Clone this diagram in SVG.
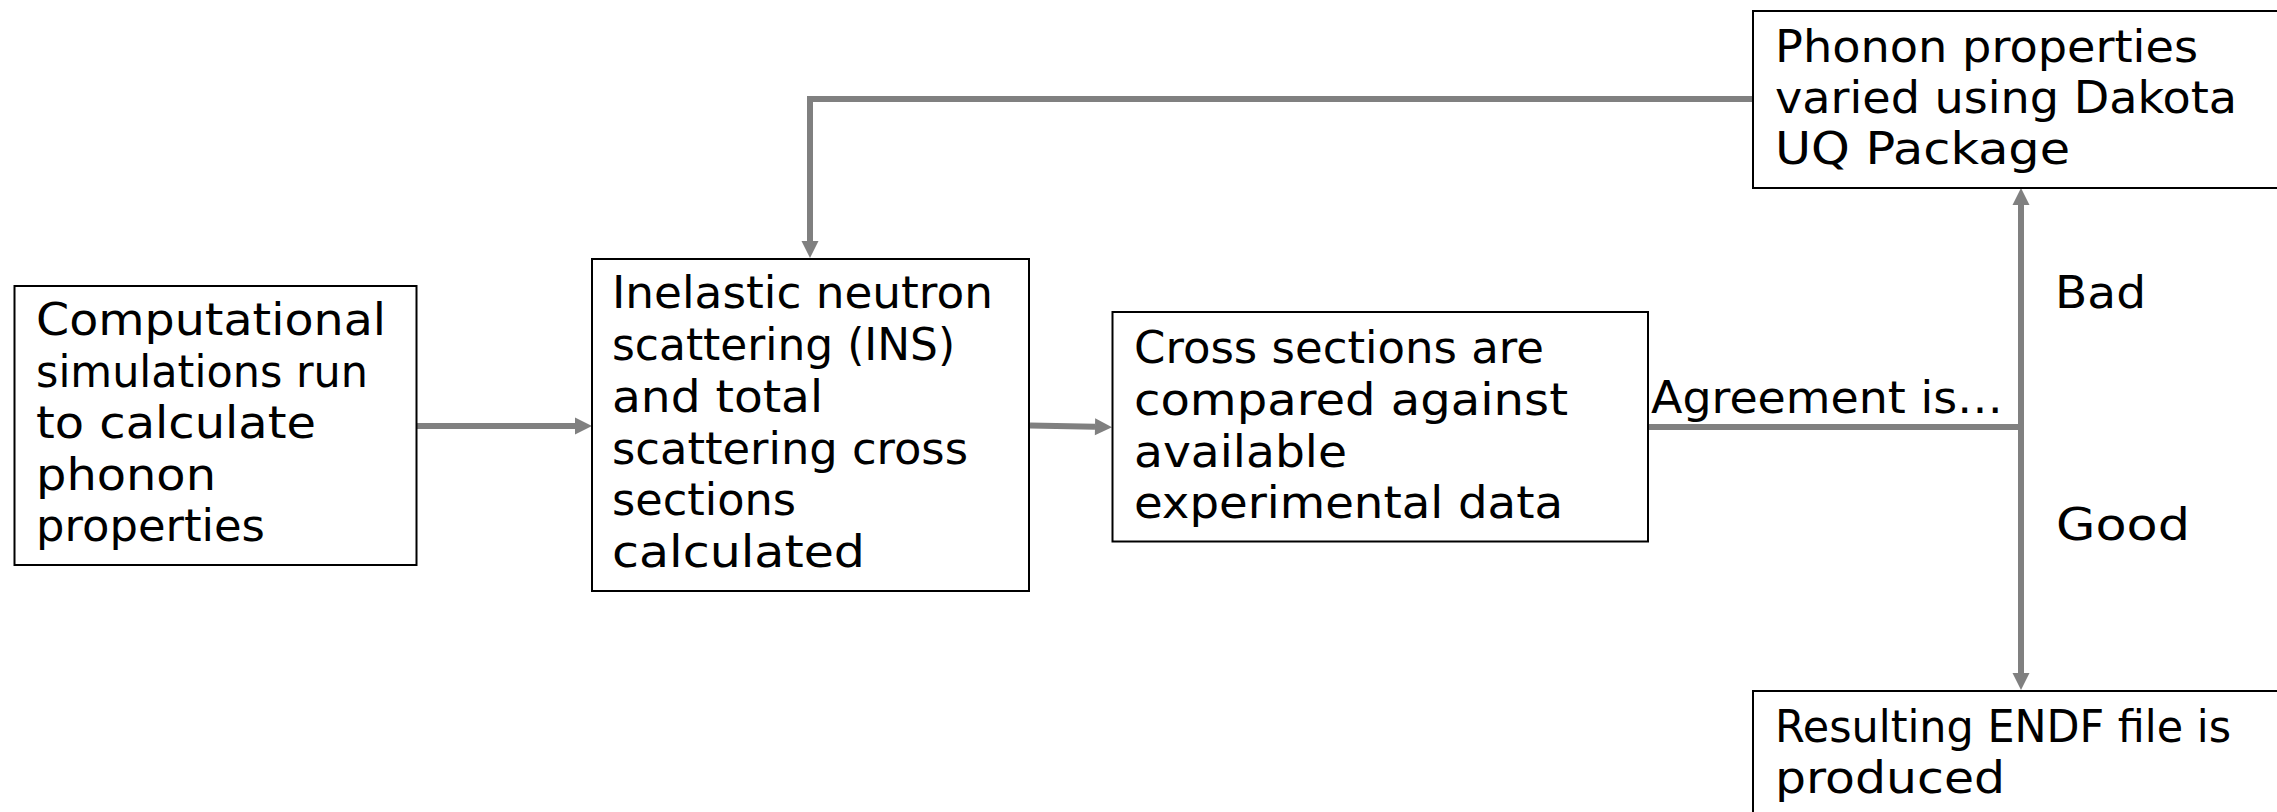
<svg xmlns="http://www.w3.org/2000/svg" width="2277" height="812" viewBox="0 0 2277 812">
<style>
.box{fill:#fff;stroke:#000;stroke-width:2}
.t{font-family:"DejaVu Sans","Liberation Sans",sans-serif;font-size:44px;fill:#000}
.c{fill:none;stroke:#808080;stroke-width:6}
</style>
<defs>
<marker id="ah" markerUnits="userSpaceOnUse" markerWidth="18" markerHeight="18" refX="0" refY="8.5" orient="auto" overflow="visible">
<path d="M0,0 L17,8.5 L0,17 Z" fill="#808080"/>
</marker>
</defs>
<rect width="2277" height="812" fill="#fff"/>
<g id="connectors">
<line class="c" x1="417" y1="426" x2="575" y2="426" marker-end="url(#ah)"/>
<line class="c" x1="1030" y1="425.5" x2="1095" y2="426.8" marker-end="url(#ah)"/>
<line class="c" x1="1648" y1="427" x2="2024" y2="427"/>
<line class="c" x1="2021" y1="430" x2="2021" y2="205" marker-end="url(#ah)"/>
<line class="c" x1="2021" y1="424" x2="2021" y2="673" marker-end="url(#ah)"/>
<polyline class="c" points="1753,99 810,99 810,241" marker-end="url(#ah)"/>
</g>
<g id="n1">
<rect class="box" x="14.5" y="286" width="402" height="279"/>
<text class="t" x="36" y="335" textLength="350" lengthAdjust="spacingAndGlyphs">Computational</text>
<text class="t" x="36" y="386.5" textLength="332" lengthAdjust="spacingAndGlyphs">simulations run</text>
<text class="t" x="36" y="438" textLength="280" lengthAdjust="spacingAndGlyphs">to calculate</text>
<text class="t" x="36" y="489.5" textLength="180" lengthAdjust="spacingAndGlyphs">phonon</text>
<text class="t" x="36" y="541" textLength="229" lengthAdjust="spacingAndGlyphs">properties</text>
</g>
<g id="n2">
<rect class="box" x="592" y="259" width="437" height="332"/>
<text class="t" x="612" y="308" textLength="381" lengthAdjust="spacingAndGlyphs">Inelastic neutron</text>
<text class="t" x="612" y="360" textLength="343" lengthAdjust="spacingAndGlyphs">scattering (INS)</text>
<text class="t" x="612" y="412" textLength="211" lengthAdjust="spacingAndGlyphs">and total</text>
<text class="t" x="612" y="463.5" textLength="356" lengthAdjust="spacingAndGlyphs">scattering cross</text>
<text class="t" x="612" y="515" textLength="184" lengthAdjust="spacingAndGlyphs">sections</text>
<text class="t" x="612" y="567" textLength="253" lengthAdjust="spacingAndGlyphs">calculated</text>
</g>
<g id="n3">
<rect class="box" x="1112.5" y="312" width="535.5" height="229.5"/>
<text class="t" x="1134" y="363" textLength="410" lengthAdjust="spacingAndGlyphs">Cross sections are</text>
<text class="t" x="1134" y="414.5" textLength="434" lengthAdjust="spacingAndGlyphs">compared against</text>
<text class="t" x="1134" y="467" textLength="213" lengthAdjust="spacingAndGlyphs">available</text>
<text class="t" x="1134" y="518" textLength="429" lengthAdjust="spacingAndGlyphs">experimental data</text>
</g>
<g id="n4">
<rect class="box" x="1753" y="11" width="600" height="177"/>
<text class="t" x="1775" y="62" textLength="423" lengthAdjust="spacingAndGlyphs">Phonon properties</text>
<text class="t" x="1775" y="113" textLength="462" lengthAdjust="spacingAndGlyphs">varied using Dakota</text>
<text class="t" x="1775" y="164" textLength="295" lengthAdjust="spacingAndGlyphs">UQ Package</text>
</g>
<g id="n5">
<rect class="box" x="1753" y="691" width="600" height="200"/>
<text class="t" x="1775" y="742" textLength="456" lengthAdjust="spacingAndGlyphs">Resulting ENDF file is</text>
<text class="t" x="1775" y="793" textLength="230" lengthAdjust="spacingAndGlyphs">produced</text>
</g>
<g id="labels">
<text class="t" x="1651" y="413" textLength="352" lengthAdjust="spacingAndGlyphs">Agreement is…</text>
<text class="t" x="2055" y="308" textLength="91" lengthAdjust="spacingAndGlyphs">Bad</text>
<text class="t" x="2056" y="540" textLength="134" lengthAdjust="spacingAndGlyphs">Good</text>
</g>
</svg>
